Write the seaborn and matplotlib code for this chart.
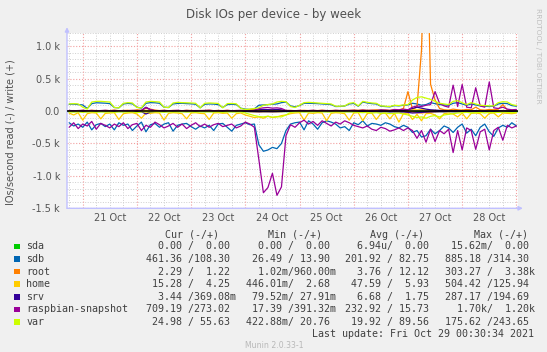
import numpy as np
import pandas as pd
import matplotlib
matplotlib.use('Agg')
import matplotlib.pyplot as plt
import matplotlib.dates as mdates
import matplotlib.ticker as mticker
from matplotlib.patches import Rectangle
import seaborn as sns

sns.set_style("white")
plt.rcParams['font.family'] = ['DejaVu Sans']
plt.rcParams['axes.unicode_minus'] = False

# ---- data (IOs/second, read shown negative, write positive) ----
times = pd.date_range('2021-10-20 18:00', periods=100, freq='2h')
sda_times = pd.to_datetime(['2021-10-20 17:00', '2021-10-29 00:30'])

sda_read = [0.0, 0.0]
sda_write = [0.0, 0.0]

sdb_read = [180, 230, 200, 250, 170, 290, 210, 190, 240, 200,
            290, 180, 220, 200, 300, 230, 170, 320, 210, 190,
            250, 200, 180, 310, 220, 200, 190, 240, 280, 230,
            260, 220, 300, 200, 190, 250, 310, 220, 200, 180,
            210, 200, 520, 620, 600, 560, 580, 500, 300, 200,
            180, 170, 290, 150, 200, 280, 180, 150, 170, 200,
            260, 240, 300, 180, 210, 150, 230, 190, 200, 220,
            180, 200, 240, 260, 220, 250, 330, 300, 400, 380,
            280, 350, 300, 230, 260, 330, 250, 200, 340, 280,
            380, 250, 200, 320, 390, 260, 220, 250, 180, 230]
sdb_write = [105, 108, 100, 95, 40, 115, 128, 125, 122, 115,
             55, 50, 110, 118, 112, 60, 45, 120, 130, 128,
             120, 60, 55, 110, 118, 120, 115, 112, 105, 50,
             105, 110, 108, 100, 55, 100, 105, 100, 45, 30,
             25, 35, 90, 95, 100, 105, 110, 130, 140, 80,
             65, 85, 120, 120, 118, 115, 110, 105, 100, 70,
             72, 78, 110, 118, 75, 140, 125, 115, 110, 75,
             70, 65, 85, 80, 90, 95, 120, 110, 90, 100,
             130, 115, 100, 95, 90, 120, 130, 110, 90, 110,
             95, 80, 75, 70, 75, 110, 120, 115, 85, 75]

root_read = [3, 2, 4, 3, 5, 2, 3, 4, 2, 3,
             5, 3, 2, 4, 3, 6, 3, 12, 8, 4,
             3, 2, 4, 3, 2, 3, 5, 3, 2, 4,
             3, 2, 4, 3, 5, 2, 3, 4, 2, 3,
             8, 10, 12, 10, 9, 11, 10, 8, 4, 3,
             2, 3, 4, 2, 3, 5, 3, 2, 4, 3,
             3, 4, 3, 5, 4, 6, 4, 5, 6, 4,
             5, 4, 6, 5, 8, 10, 15, 25, 30, 20,
             15, 10, 8, 6, 5, 6, 5, 4, 5, 6,
             5, 4, 5, 6, 4, 5, 8, 5, 4, 3]
root_write = [5, 8, 4, 10, 6, 12, 8, 5, 10, 7,
              15, 6, 9, 12, 5, 20, 10, 45, 30, 15,
              8, 12, 6, 10, 8, 5, 12, 9, 6, 10,
              8, 14, 6, 10, 7, 12, 5, 9, 6, 10,
              25, 20, 15, 18, 22, 20, 15, 12, 8, 10,
              6, 9, 12, 7, 10, 8, 14, 6, 9, 11,
              8, 12, 10, 15, 12, 18, 10, 14, 20, 12,
              16, 10, 22, 15, 40, 300, 30, 60, 940, 3380,
              415, 170, 40, 20, 15, 30, 20, 15, 25, 20,
              60, 20, 15, 25, 20, 30, 100, 20, 15, 10]

home_read = [30, 60, 25, 140, 40, 25, 30, 120, 35, 30,
             25, 130, 40, 30, 25, 45, 110, 30, 35, 25,
             30, 140, 35, 25, 30, 40, 120, 30, 25, 35,
             40, 130, 30, 25, 35, 30, 110, 40, 30, 60,
             80, 100, 90, 110, 80, 100, 90, 70, 60, 40,
             30, 25, 140, 30, 35, 25, 30, 150, 35, 25,
             30, 40, 140, 30, 25, 150, 35, 30, 130, 40,
             30, 120, 35, 170, 40, 30, 130, 50, 150, 40,
             35, 60, 120, 40, 30, 45, 90, 30, 120, 35,
             30, 40, 110, 35, 30, 90, 30, 35, 40, 30]
home_write = [3, 5, 2, 6, 4, 3, 8, 2, 5, 4,
              3, 6, 2, 5, 4, 3, 7, 12, 5, 3,
              4, 6, 2, 5, 3, 4, 6, 3, 5, 2,
              4, 3, 6, 2, 5, 4, 3, 6, 2, 4,
              8, 10, 12, 9, 11, 10, 12, 8, 5, 3,
              4, 6, 2, 5, 3, 4, 6, 3, 5, 2,
              4, 6, 5, 8, 6, 7, 9, 6, 8, 10,
              7, 9, 8, 12, 10, 15, 20, 18, 22, 16,
              12, 10, 8, 7, 9, 6, 8, 7, 6, 5,
              7, 6, 8, 5, 6, 7, 9, 6, 5, 4]

srv_read = [3, 5, 2, 4, 6, 3, 5, 2, 4, 3,
            5, 2, 4, 3, 6, 8, 10, 45, 15, 5,
            3, 4, 2, 5, 3, 4, 6, 3, 5, 2,
            4, 3, 5, 2, 4, 3, 5, 4, 3, 5,
            6, 8, 10, 8, 9, 10, 8, 6, 4, 3,
            4, 3, 5, 2, 4, 6, 3, 5, 4, 3,
            5, 4, 6, 5, 8, 6, 10, 8, 12, 10,
            8, 12, 10, 15, 12, 20, 30, 25, 20, 15,
            12, 10, 8, 10, 6, 8, 10, 6, 8, 7,
            6, 8, 5, 7, 6, 5, 7, 5, 4, 3]
srv_write = [2, 3, 1, 2, 3, 2, 1, 3, 2, 1,
             3, 2, 1, 2, 3, 5, 8, 60, 20, 3,
             2, 1, 3, 2, 1, 2, 3, 1, 2, 3,
             2, 1, 3, 2, 1, 3, 2, 1, 2, 3,
             5, 10, 20, 25, 22, 20, 25, 18, 5, 2,
             1, 3, 2, 1, 2, 3, 1, 2, 3, 2,
             2, 3, 2, 4, 3, 5, 4, 6, 5, 8,
             6, 5, 8, 6, 10, 20, 40, 60, 45, 30,
             20, 15, 10, 8, 6, 5, 6, 4, 5, 3,
             4, 3, 2, 3, 2, 3, 2, 1, 2, 1]

rasp_read = [250, 180, 270, 200, 230, 160, 280, 190, 220, 260,
             200, 240, 180, 270, 210, 190, 300, 220, 250, 170,
             210, 260, 230, 190, 250, 200, 270, 220, 180, 240,
             200, 250, 210, 190, 240, 220, 200, 260, 230, 170,
             200, 250, 750, 1260, 1180, 960, 1300, 1170, 380, 210,
             250, 180, 140, 200, 160, 220, 150, 190, 230, 170,
             200, 150, 180, 220, 240, 260, 230, 280, 300, 250,
             270, 310, 290, 260, 300, 260, 300, 420, 300, 480,
             280, 470, 300, 350, 280, 640, 300, 600, 260, 300,
             590, 320, 280, 600, 300, 250, 450, 220, 260, 230]
rasp_write = [10, 5, 8, 12, 6, 10, 4, 8, 12, 6,
              10, 5, 8, 6, 12, 8, 10, 55, 20, 8,
              6, 10, 5, 8, 12, 6, 10, 5, 8, 6,
              10, 12, 6, 8, 5, 10, 6, 8, 12, 5,
              8, 10, 40, 50, 55, 45, 50, 40, 10, 8,
              6, 10, 5, 8, 12, 6, 10, 8, 5, 12,
              8, 6, 10, 12, 8, 15, 10, 12, 8, 20,
              15, 10, 25, 20, 30, 20, 60, 80, 70, 90,
              100, 300, 120, 80, 60, 400, 70, 410, 60, 50,
              360, 80, 60, 450, 50, 40, 60, 30, 20, 25]

var_read = [10, 15, 8, 20, 12, 10, 18, 10, 14, 12,
            20, 10, 12, 15, 10, 25, 12, 10, 14, 10,
            12, 18, 10, 15, 12, 10, 14, 12, 18, 10,
            12, 10, 15, 12, 20, 10, 12, 15, 10, 30,
            50, 70, 85, 90, 80, 95, 85, 90, 60, 20,
            12, 10, 15, 12, 10, 14, 10, 12, 15, 10,
            12, 14, 10, 15, 20, 25, 20, 30, 25, 35,
            30, 40, 35, 30, 45, 60, 80, 100, 90, 110,
            80, 70, 90, 60, 50, 40, 30, 25, 20, 30,
            25, 20, 30, 20, 25, 20, 15, 20, 25, 20]
var_write = [110, 115, 110, 60, 30, 140, 150, 150, 145, 140,
             55, 50, 120, 130, 125, 55, 50, 140, 150, 145,
             140, 60, 55, 125, 135, 130, 128, 125, 120, 50,
             120, 125, 122, 118, 50, 115, 118, 112, 40, 25,
             30, 40, 50, 90, 100, 110, 140, 150, 145, 70,
             55, 90, 130, 135, 130, 125, 120, 115, 110, 75,
             75, 80, 120, 130, 80, 150, 135, 125, 120, 80,
             75, 70, 90, 85, 95, 100, 170, 210, 220, 200,
             180, 150, 120, 110, 100, 150, 160, 130, 100, 130,
             110, 90, 85, 80, 80, 130, 145, 140, 100, 85]

# legend table
names = ['sda', 'sdb', 'root', 'home', 'srv', 'raspbian-snapshot', 'var']
colors = ['#00CC00', '#0066B3', '#FF8000', '#FFCC00', '#330099', '#990099', '#CCFF00']
cur_read = ['0.00', '461.36', '2.29', '15.28', '3.44', '709.19', '24.98']
cur_write = ['0.00', '108.30', '1.22', '4.25', '369.08m', '273.02', '55.63']
min_read = ['0.00', '26.49', '1.02m', '446.01m', '79.52m', '17.39', '422.88m']
min_write = ['0.00', '13.90', '960.00m', '2.68', '27.91m', '391.32m', '20.76']
avg_read = ['6.94u', '201.92', '3.76', '47.59', '6.68', '232.92', '19.92']
avg_write = ['0.00', '82.75', '12.12', '5.93', '1.75', '15.73', '89.56']
max_read = ['15.62m', '885.18', '303.27', '504.42', '287.17', '1.70k', '175.62']
max_write = ['0.00', '314.30', '3.38k', '125.94', '194.69', '1.20k', '243.65']

series = [
    (sda_times, sda_read, sda_write),
    (times, sdb_read, sdb_write),
    (times, root_read, root_write),
    (times, home_read, home_write),
    (times, srv_read, srv_write),
    (times, rasp_read, rasp_write),
    (times, var_read, var_write),
]

W, H = 547, 352
fig = plt.figure(figsize=(W / 100, H / 100), dpi=100, facecolor='#F0F0F0')
ax = fig.add_axes([67 / W, 1 - 208.3 / H, 450.5 / W, 175 / H])
ax.set_facecolor('white')

for (t, rd, wr), col in zip(series, colors):
    sns.lineplot(x=t, y=-np.asarray(rd, dtype=float), color=col, lw=0.9,
                 errorbar=None, legend=False, ax=ax)
    sns.lineplot(x=t, y=np.asarray(wr, dtype=float), color=col, lw=0.9,
                 errorbar=None, legend=False, ax=ax)

ax.axhline(0, color='black', lw=1.1, zorder=5)

ax.set_xlim(pd.Timestamp('2021-10-20 17:03'), pd.Timestamp('2021-10-29 00:30'))
ax.set_ylim(-1500, 1200)

# grid: gray every 6h / 100, red at midnight / 500
dot = (0, (1, 1.6))
ax.xaxis.set_major_locator(mdates.HourLocator(byhour=12))
ax.xaxis.set_major_formatter(mdates.DateFormatter('%d %b'))
ax.xaxis.set_minor_locator(mdates.HourLocator(byhour=[6, 18]))
ax.yaxis.set_major_locator(mticker.MultipleLocator(500))
ax.yaxis.set_minor_locator(mticker.MultipleLocator(100))
ax.yaxis.set_major_formatter(mticker.FuncFormatter(
    lambda v, p: '0.0' if v == 0 else f'{v / 1000:.1f} k'))
ax.grid(which='both', axis='x', color='#CFCFCF', ls=dot, lw=0.7)
ax.grid(which='minor', axis='y', color='#CFCFCF', ls=dot, lw=0.7)
ax.grid(which='major', axis='y', color='#F2A0A0', ls=dot, lw=0.8)
for d in pd.date_range('2021-10-21', '2021-10-29', freq='D'):
    ax.axvline(d, color='#F2A0A0', ls=dot, lw=0.8, zorder=0.6)
ax.set_axisbelow(True)

ax.tick_params(axis='both', which='both', length=0, labelsize=7, colors='#555555')
ax.tick_params(axis='x', pad=3.5)
ax.tick_params(axis='y', pad=5)
ax.set_xlabel('')
ax.set_ylabel('')
for s in ax.spines.values():
    s.set_visible(False)

# axis arrows
arrow_kw = dict(arrowstyle='-|>', color='#C0C0FF', lw=1.0, mutation_scale=6,
                shrinkA=0, shrinkB=0)
ax.annotate('', xy=(0, 1.035), xytext=(0, 0), xycoords='axes fraction',
            arrowprops=arrow_kw, annotation_clip=False)
ax.annotate('', xy=(1.012, 0), xytext=(0, 0), xycoords='axes fraction',
            arrowprops=arrow_kw, annotation_clip=False)

# titles / side texts
fig.text(273.6 / W, 1 - 14.6 / H, 'Disk IOs per device - by week',
         ha='center', va='center', fontsize=8.5, color='#505050')
fig.text(11 / W, 1 - 132.4 / H, 'IOs/second read (-) / write (+)',
         rotation=90, ha='center', va='center', fontsize=7, color='#505050')
fig.text(538 / W, 1 - 56 / H, 'RRDTOOL / TOBI OETIKER', rotation=270,
         ha='center', va='center', fontsize=5.4, color='#C0C0C0')

# legend table
mono = dict(family='DejaVu Sans Mono', fontsize=7.2, color='#404040', va='center')


def cell(s):
    if s[-1].isalpha():
        return s[:-1].rjust(6) + s[-1]
    return s.rjust(6) + ' '


col_x = [146.0, 246.1, 345.0, 445.4]
head_x = [165.2, 268.2, 370.0, 473.7]
for hx, lab in zip(head_x, ['Cur (-/+)', 'Min (-/+)', 'Avg (-/+)', 'Max (-/+)']):
    fig.text(hx / W, 1 - 234.9 / H, lab, ha='left', **mono)

row_y0, row_dy = 246.4, 12.57
for k, name in enumerate(names):
    y = row_y0 + k * row_dy
    fig.patches.append(Rectangle((14 / W, 1 - (y + 2.9) / H), 5.6 / W, 5.6 / H,
                                 transform=fig.transFigure, facecolor=colors[k],
                                 edgecolor='none'))
    fig.text(26.4 / W, 1 - y / H, name, ha='left', **mono)
    cells = [cell(cur_read[k]) + '/' + cell(cur_write[k]),
             cell(min_read[k]) + '/' + cell(min_write[k]),
             cell(avg_read[k]) + '/' + cell(avg_write[k]),
             cell(max_read[k]) + '/' + cell(max_write[k])]
    for cx, txt in zip(col_x, cells):
        fig.text(cx / W, 1 - y / H, txt, ha='left', **mono)

fig.text(533.5 / W, 1 - 334 / H, 'Last update: Fri Oct 29 00:30:34 2021',
         ha='right', **mono)
fig.text(274 / W, 1 - 345.8 / H, 'Munin 2.0.33-1', ha='center', va='center',
         fontsize=5.6, color='#B8B8B8')

fig.savefig('out.png', dpi=100, facecolor='#F0F0F0')
